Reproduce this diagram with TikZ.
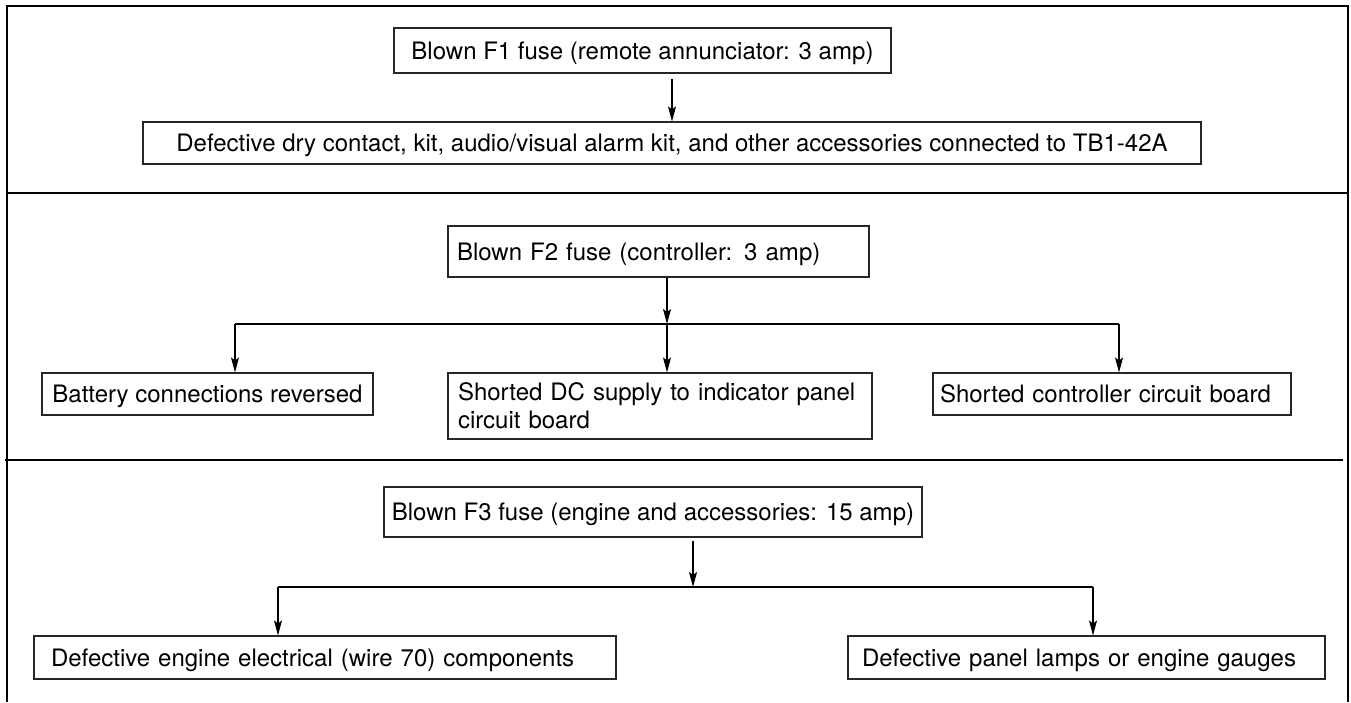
\documentclass[tikz,border=0pt]{standalone}
\usepackage{fontspec}
\setmainfont{TeX Gyre Heros}
\usetikzlibrary{arrows.meta}

\tikzset{
  frame/.style={line width=2.4pt},
  divider/.style={line width=1.1pt},
  causebox/.style={draw=black!85, line width=1.1pt, inner sep=0pt,
    font=\fontsize{24}{28}\selectfont},
  oneline/.style={text height=17.3pt, text depth=0pt},
  link/.style={line width=1.1pt, -{Stealth[length=15pt,width=8pt,inset=3pt]}},
  bus/.style={line width=1.1pt}
}

\begin{document}
\begin{tikzpicture}[x=1pt,y=-1pt]
\useasboundingbox (0,0) rectangle (1351,702);

% outer frame and section lines
\draw[frame] (7,702) -- (7,6) -- (1348,6) -- (1348,702);
\draw[divider] (7,193) -- (1347,193);
\draw[divider] (5,460) -- (1343,460);

% F1 section
\node[causebox, oneline, minimum width=497pt, minimum height=45pt] (f1) at (642.5,50.5)
  {Blown F1 fuse (remote annunciator: 3 amp)};
\node[causebox, oneline, minimum width=1058pt, minimum height=42pt] (dry) at (672,143)
  {Defective dry contact, kit, audio/visual alarm kit, and other accessories connected to TB1-42A};
\coordinate (f1tap) at (672,79);
\draw[link] (f1tap) -- (f1tap |- dry.north);

% F2 section
\node[causebox, oneline, inner xsep=9pt, text width=403pt, align=left,
  minimum width=421pt, minimum height=51pt] (f2) at (658.5,251.5)
  {Blown F2 fuse (controller: 3 amp)};
\node[causebox, oneline, minimum width=331pt, minimum height=42pt] (batt) at (207.5,394)
  {Battery connections reversed};
\node[causebox, inner xsep=10pt, text width=404pt, align=left,
  minimum width=424pt, minimum height=66pt] (dc) at (660,406)
  {Shorted DC supply to indicator panel\\circuit board};
\node[causebox, oneline, inner xsep=7pt, text width=344pt, align=left,
  minimum width=358pt, minimum height=42pt] (ctrl) at (1112,394)
  {Shorted controller circuit board};
\coordinate (f2tap) at (667,324);
\coordinate (f2left) at (235,324);
\coordinate (f2right) at (1119,324);
\draw[link] (f2.south -| f2tap) -- (f2tap);
\draw[bus] (f2left) -- (f2right);
\draw[link] (f2left) -- (f2left |- batt.north);
\draw[link] (f2tap) -- (f2tap |- dc.north);
\draw[link] (f2right) -- (f2right |- ctrl.north);

% F3 section
\node[causebox, oneline, minimum width=538pt, minimum height=50pt] (f3) at (653,512)
  {Blown F3 fuse (engine and accessories: 15 amp)};
\node[causebox, oneline, inner xsep=17pt, text width=548pt, align=left,
  minimum width=582pt, minimum height=43pt] (eng) at (325,657.5)
  {Defective engine electrical (wire 70) components};
\node[causebox, oneline, inner xsep=14pt, text width=449pt, align=left,
  minimum width=477pt, minimum height=43pt] (lamps) at (1086.5,657.5)
  {Defective panel lamps or engine gauges};
\coordinate (f3tap) at (693,587);
\coordinate (f3left) at (278,587);
\coordinate (f3right) at (1093,587);
\draw[link, shorten <=3pt] (f3.south -| f3tap) -- (f3tap);
\draw[bus] (f3left) -- (f3right);
\draw[link] (f3left) -- (f3left |- eng.north);
\draw[link] (f3right) -- (f3right |- lamps.north);
\end{tikzpicture}
\end{document}
